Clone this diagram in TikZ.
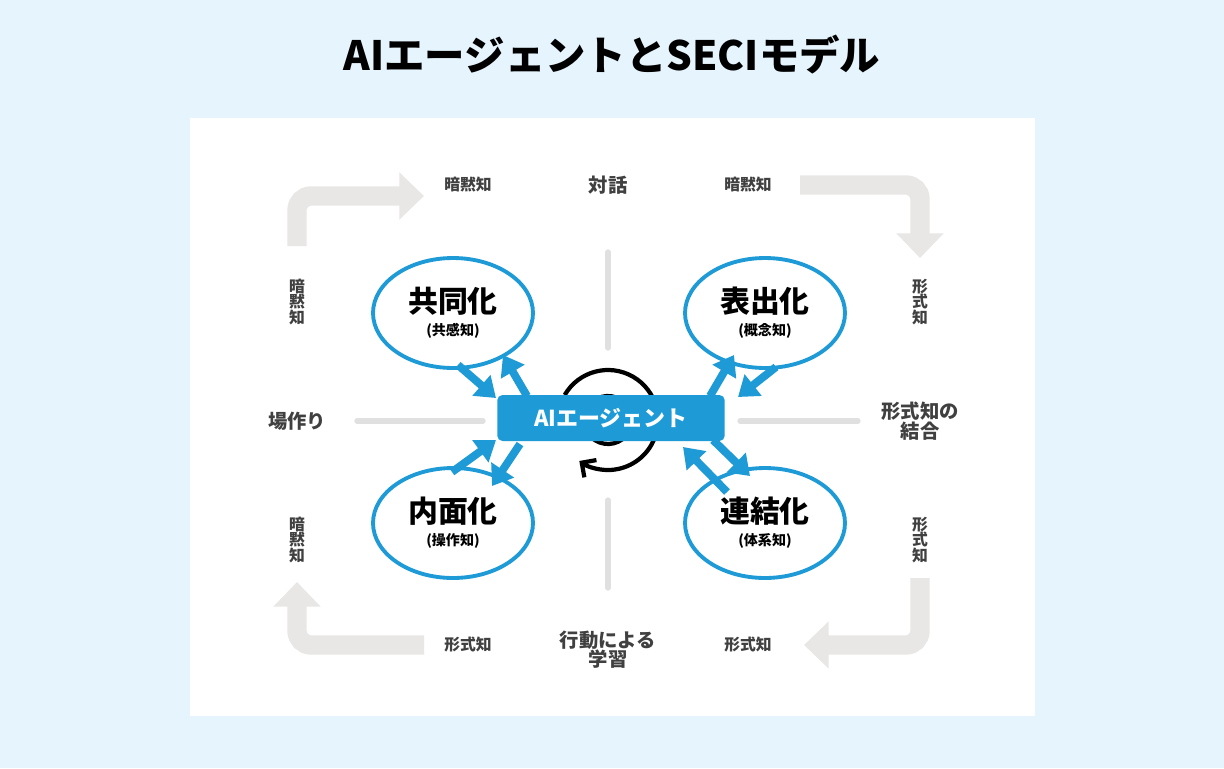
\documentclass[tikz,border=0pt]{standalone}
\usepackage{fontspec}
\setmainfont{Noto Sans CJK JP}
\usetikzlibrary{shapes.geometric, arrows.meta, positioning}
\definecolor{bgblue}{HTML}{E6F5FD}
\definecolor{agentblue}{HTML}{1E9BD7}
\definecolor{flowgray}{HTML}{E9E7E5}
\tikzset{
    mode/.style={
        ellipse, draw=agentblue, line width=2.2pt,
        minimum width=3.2cm, minimum height=2.2cm,
        fill=white, align=center, inner sep=0pt
    },
    tag/.style={font=\bfseries\fontsize{9}{12}\selectfont, text=black!75, align=center, inner sep=1pt},
    vtag/.style={tag, text width=10pt},
    axis/.style={draw=black!12, line width=3pt, line cap=round},
    flow/.style={draw=flowgray, line width=11pt, rounded corners=8pt, -{Triangle[length=14pt, width=26pt]}},
    link/.style={draw=agentblue, line width=4.5pt, -{Triangle[length=11pt, width=15pt]}}
}
\newcommand{\modelabel}[2]{{\fontsize{17}{19}\selectfont\bfseries #1}\\[1pt]{\fontsize{8}{10}\selectfont\bfseries (#2)}}
\begin{document}
\begin{tikzpicture}[x=0.02cm, y=-0.02cm]
\useasboundingbox[fill=bgblue] (0,0) rectangle (1224,768);
\fill[white] (190,118) rectangle (1035,716);

% Title
\node[font=\bfseries\fontsize{23}{26}\selectfont] (title) at (612,55) {AIエージェントとSECIモデル};

% Axes
\draw[axis] (608,252) -- (608,348);
\draw[axis] (608,500) -- (608,588);
\draw[axis] (357,421) -- (483,421);
\draw[axis] (740,421) -- (858,421);

% Outer flow
\draw[flow] (297,246) -- (297,196) -- (424,196);
\draw[flow] (800,185) -- (920,185) -- (920,258);
\draw[flow] (920,578) -- (920,645) -- (804,645);
\draw[flow] (424,645) -- (297,645) -- (297,582);

% Cycle behind the agent
\draw[line width=2.4pt, -{Straight Barb[length=6pt, width=12pt]}] (608,420) ++(210:50) arc (210:485:50);
\draw[line width=2.4pt] (608,420) ++(200:24) arc (200:340:24);
\draw[line width=2.4pt] (608,420) ++(20:24) arc (20:160:24);

% Modes
\node[mode] (soc) at (453,313) {\modelabel{共同化}{共感知}};
\node[mode] (ext) at (765,313) {\modelabel{表出化}{概念知}};
\node[mode] (int) at (453,523) {\modelabel{内面化}{操作知}};
\node[mode] (com) at (765,523) {\modelabel{連結化}{体系知}};

% Agent
\node[fill=agentblue, rounded corners=3pt, minimum width=4.55cm, minimum height=0.92cm,
      text=white, font=\bfseries\fontsize{12.5}{14}\selectfont] (agent) at (611,418) {AIエージェント};

% Links
\coordinate (a1) at (458,365); \coordinate (b1) at (496,398);
\coordinate (a2) at (503,355); \coordinate (b2) at (527,396);
\draw[link] (a1) -- (b1);
\draw[link] (b2) -- (a2);
\coordinate (a3) at (452,472); \coordinate (b3) at (496,440);
\coordinate (a4) at (492,486); \coordinate (b4) at (520,444);
\draw[link] (a3) -- (b3);
\draw[link] (b4) -- (a4);
\coordinate (a5) at (710,396); \coordinate (b5) at (734,355);
\coordinate (a6) at (776,367); \coordinate (b6) at (738,397);
\draw[link] (a5) -- (b5);
\draw[link] (a6) -- (b6);
\coordinate (a7) at (713,440); \coordinate (b7) at (750,476);
\coordinate (a8) at (727,492); \coordinate (b8) at (683,447);
\draw[link] (a7) -- (b7);
\draw[link] (a8) -- (b8);

% Labels
\node[tag] (tk1) at (468,185) {暗黙知};
\node[tag, font=\bfseries\fontsize{11}{13}\selectfont] (dia) at (608,185) {対話};
\node[tag] (tk2) at (748,185) {暗黙知};
\node[vtag] (tk3) at (297,302) {暗\\[-3pt]黙\\[-3pt]知};
\node[vtag] (ek1) at (920,302) {形\\[-3pt]式\\[-3pt]知};
\node[tag, font=\bfseries\fontsize{11}{13}\selectfont] (ba) at (297,421) {場作り};
\node[tag, font=\bfseries\fontsize{11}{13}\selectfont] (comb) at (920,421) {形式知の\\[-2pt]結合};
\node[vtag] (tk4) at (297,540) {暗\\[-3pt]黙\\[-3pt]知};
\node[vtag] (ek2) at (920,540) {形\\[-3pt]式\\[-3pt]知};
\node[tag] (ek3) at (468,645) {形式知};
\node[tag, font=\bfseries\fontsize{11}{13}\selectfont] (act) at (608,650) {行動による\\[-2pt]学習};
\node[tag] (ek4) at (748,645) {形式知};
\end{tikzpicture}
\end{document}
